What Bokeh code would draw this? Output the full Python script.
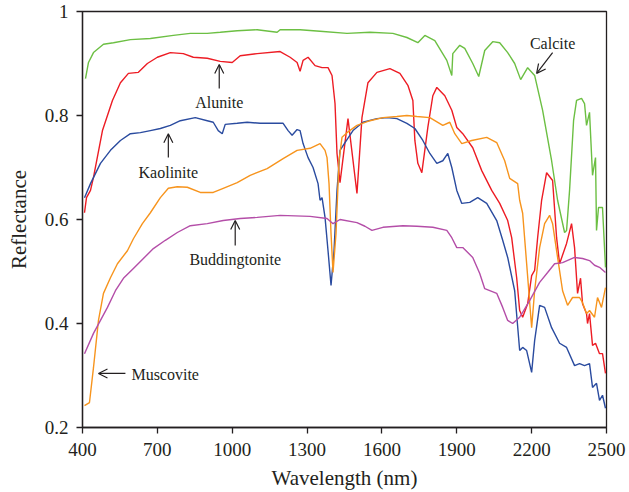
from bokeh.plotting import figure
from bokeh.models import FixedTicker, Label, Arrow, OpenHead
from bokeh.embed import file_html
from bokeh.resources import INLINE

# ---------------- data (wavelength in nm, reflectance) ----------------
calcite_wl = [412, 424, 444, 484, 524, 592, 672, 764, 832, 900, 952, 1020, 1100, 1180, 1192,
              1272, 1352, 1460, 1552, 1644, 1700, 1744, 1772, 1812, 1860, 1880, 1884, 1912,
              1932, 1964, 1988, 2012, 2044, 2072, 2104, 2132, 2156, 2184, 2212, 2244, 2280,
              2304, 2332, 2340, 2352, 2368, 2380, 2400, 2412, 2420, 2432, 2444, 2456, 2460,
              2468, 2484, 2496]
calcite_r = [0.871, 0.902, 0.921, 0.937, 0.940, 0.946, 0.948, 0.954, 0.958, 0.958, 0.960, 0.963,
             0.965, 0.960, 0.965, 0.965, 0.962, 0.958, 0.960, 0.958, 0.950, 0.940, 0.954, 0.944,
             0.906, 0.877, 0.919, 0.935, 0.929, 0.900, 0.875, 0.925, 0.942, 0.940, 0.921, 0.900,
             0.869, 0.892, 0.877, 0.810, 0.713, 0.637, 0.575, 0.579, 0.656, 0.790, 0.829, 0.833,
             0.823, 0.781, 0.806, 0.685, 0.719, 0.579, 0.623, 0.623, 0.508]

alunite_wl = [408, 416, 432, 444, 480, 520, 552, 584, 624, 660, 700, 752, 804, 844, 900, 952,
              1000, 1032, 1100, 1192, 1232, 1260, 1272, 1284, 1304, 1332, 1360, 1384, 1400, 1412,
              1420, 1432, 1464, 1500, 1520, 1544, 1580, 1632, 1672, 1704, 1724, 1732, 1744, 1760,
              1784, 1804, 1820, 1852, 1880, 1900, 1924, 1964, 2000, 2040, 2072, 2104, 2120, 2140,
              2152, 2164, 2184, 2200, 2212, 2224, 2240, 2260, 2284, 2300, 2312, 2340, 2360, 2372,
              2384, 2396, 2404, 2420, 2424, 2432, 2444, 2456, 2472, 2484, 2496]
alunite_r = [0.613, 0.642, 0.656, 0.681, 0.771, 0.829, 0.863, 0.881, 0.883, 0.900, 0.912, 0.921,
             0.919, 0.912, 0.910, 0.904, 0.902, 0.915, 0.919, 0.923, 0.912, 0.902, 0.885, 0.906,
             0.912, 0.896, 0.892, 0.892, 0.877, 0.823, 0.727, 0.671, 0.794, 0.650, 0.796, 0.863,
             0.883, 0.890, 0.881, 0.858, 0.829, 0.752, 0.708, 0.690, 0.777, 0.838, 0.854, 0.838,
             0.810, 0.777, 0.765, 0.738, 0.694, 0.656, 0.631, 0.598, 0.565, 0.488, 0.425, 0.412,
             0.438, 0.492, 0.502, 0.565, 0.637, 0.690, 0.675, 0.565, 0.515, 0.554, 0.592, 0.546,
             0.458, 0.487, 0.438, 0.419, 0.400, 0.419, 0.358, 0.362, 0.342, 0.342, 0.304]

kaolinite_wl = [408, 432, 472, 512, 552, 592, 632, 672, 712, 752, 792, 852, 900, 924, 944, 960,
                972, 1020, 1060, 1112, 1204, 1224, 1240, 1260, 1272, 1284, 1304, 1324, 1344, 1352,
                1360, 1372, 1384, 1396, 1408, 1420, 1432, 1452, 1484, 1524, 1580, 1620, 1660, 1700,
                1732, 1764, 1792, 1820, 1844, 1864, 1880, 1900, 1920, 1952, 1984, 2020, 2060, 2084,
                2104, 2132, 2152, 2164, 2180, 2200, 2212, 2232, 2252, 2280, 2312, 2340, 2372, 2392,
                2412, 2432, 2444, 2460, 2472, 2484, 2496]
kaolinite_r = [0.642, 0.669, 0.708, 0.733, 0.752, 0.765, 0.767, 0.771, 0.775, 0.781, 0.790, 0.796,
               0.790, 0.787, 0.771, 0.765, 0.783, 0.785, 0.787, 0.785, 0.785, 0.771, 0.762, 0.773,
               0.771, 0.746, 0.719, 0.700, 0.669, 0.637, 0.642, 0.604, 0.540, 0.473, 0.540, 0.656,
               0.733, 0.748, 0.771, 0.787, 0.794, 0.796, 0.794, 0.785, 0.775, 0.752, 0.727, 0.708,
               0.713, 0.727, 0.700, 0.656, 0.631, 0.633, 0.642, 0.631, 0.598, 0.560, 0.527, 0.463,
               0.348, 0.354, 0.348, 0.306, 0.367, 0.435, 0.431, 0.392, 0.362, 0.354, 0.319, 0.323,
               0.319, 0.323, 0.277, 0.285, 0.252, 0.262, 0.237]

muscovite_wl = [408, 428, 444, 464, 484, 512, 540, 580, 604, 640, 672, 712, 744, 780, 820, 872,
                924, 964, 1020, 1072, 1140, 1204, 1260, 1312, 1352, 1372, 1380, 1388, 1396, 1404,
                1416, 1428, 1440, 1460, 1500, 1552, 1604, 1660, 1700, 1740, 1792, 1844, 1872, 1892,
                1920, 1960, 2020, 2060, 2092, 2112, 2144, 2152, 2164, 2180, 2200, 2212, 2232, 2252,
                2272, 2284, 2304, 2324, 2344, 2364, 2392, 2404, 2420, 2432, 2452, 2464, 2480, 2496]
muscovite_r = [0.242, 0.248, 0.315, 0.406, 0.458, 0.488, 0.515, 0.540, 0.563, 0.592, 0.613, 0.642,
               0.660, 0.663, 0.662, 0.652, 0.652, 0.660, 0.671, 0.685, 0.698, 0.717, 0.733, 0.737,
               0.746, 0.733, 0.719, 0.669, 0.573, 0.498, 0.573, 0.713, 0.758, 0.767, 0.781, 0.790,
               0.796, 0.798, 0.800, 0.798, 0.796, 0.781, 0.787, 0.765, 0.746, 0.752, 0.758, 0.748,
               0.713, 0.679, 0.669, 0.637, 0.612, 0.515, 0.392, 0.463, 0.546, 0.592, 0.608, 0.592,
               0.527, 0.463, 0.435, 0.450, 0.450, 0.440, 0.419, 0.425, 0.412, 0.450, 0.431, 0.469]

buddingtonite_wl = [408, 444, 472, 500, 532, 564, 604, 644, 684, 732, 780, 832, 900, 964, 1032,
                    1100, 1192, 1312, 1380, 1404, 1432, 1500, 1532, 1560, 1604, 1684, 1740, 1804,
                    1860, 1880, 1900, 1924, 1964, 1992, 2012, 2060, 2084, 2104, 2124, 2152, 2192,
                    2232, 2264, 2292, 2324, 2372, 2404, 2432, 2452, 2472, 2496]
buddingtonite_r = [0.342, 0.381, 0.406, 0.431, 0.463, 0.487, 0.506, 0.525, 0.544, 0.560, 0.575,
                   0.588, 0.592, 0.598, 0.602, 0.604, 0.608, 0.606, 0.602, 0.592, 0.600, 0.594,
                   0.587, 0.579, 0.585, 0.588, 0.587, 0.585, 0.579, 0.565, 0.546, 0.546, 0.527,
                   0.496, 0.467, 0.458, 0.431, 0.406, 0.400, 0.412, 0.444, 0.479, 0.498, 0.515,
                   0.517, 0.527, 0.525, 0.521, 0.512, 0.508, 0.498]

x_ticks = [400, 700, 1000, 1300, 1600, 1900, 2200, 2500]
y_ticks = [0.2, 0.4, 0.6, 0.8, 1.0]

# ---------------- figure ----------------
FONT = "Liberation Serif"
INK = "#231f20"

p = figure(width=629, height=492, x_range=(400, 2500), y_range=(0.2, 1.0),
           output_backend="svg", toolbar_location=None,
           min_border_left=82, min_border_right=23, min_border_top=11, min_border_bottom=65)
p.grid.visible = False
p.outline_line_color = INK
p.outline_line_width = 1.3
p.background_fill_color = "white"
p.border_fill_color = "white"

series = [
    (calcite_wl, calcite_r, "#6cbf43"),
    (alunite_wl, alunite_r, "#ed1c24"),
    (kaolinite_wl, kaolinite_r, "#2a4b9f"),
    (muscovite_wl, muscovite_r, "#f7941d"),
    (buddingtonite_wl, buddingtonite_r, "#b44ea8"),
]
for wl, r, c in series:
    p.line(wl, r, line_color=c, line_width=1.4)

for ax in (p.xaxis[0], p.yaxis[0]):
    ax.axis_line_color = INK
    ax.axis_line_width = 1.3
    ax.major_tick_line_color = INK
    ax.major_tick_line_width = 1.3
    ax.major_tick_out = 6
    ax.major_tick_in = 0
    ax.minor_tick_out = 0
    ax.minor_tick_in = 0
    ax.major_label_text_font = FONT
    ax.major_label_text_font_size = "19px"
    ax.major_label_text_color = INK
    ax.axis_label_text_font = FONT
    ax.axis_label_text_font_size = "21px"
    ax.axis_label_text_font_style = "normal"
    ax.axis_label_text_color = INK

p.xaxis.ticker = FixedTicker(ticks=x_ticks)
p.yaxis.ticker = FixedTicker(ticks=y_ticks)
p.yaxis.major_label_overrides = {1: "1"}
p.xaxis.axis_label = "Wavelength (nm)"
p.yaxis.axis_label = "Reflectance"
p.xaxis.major_label_standoff = 9
p.yaxis.major_label_standoff = 8
p.xaxis.axis_label_standoff = 7
p.yaxis.axis_label_standoff = 11

# ---------------- annotations ----------------
def add_label(x, y, text, align="center"):
    p.add_layout(Label(x=x, y=y, text=text, text_align=align, text_baseline="middle",
                       text_font=FONT, text_font_size="16px", text_color=INK))

def add_arrow(x0, y0, x1, y1):
    p.add_layout(Arrow(end=OpenHead(size=9, line_width=1.2, line_color=INK),
                       x_start=x0, y_start=y0, x_end=x1, y_end=y1,
                       line_width=1.2, line_color=INK))

add_label(948, 0.825, "Alunite")
add_arrow(948, 0.852, 948, 0.898)
add_label(744, 0.690, "Kaolinite")
add_arrow(744, 0.719, 744, 0.765)
add_label(1012, 0.523, "Buddingtonite")
add_arrow(1012, 0.550, 1012, 0.598)
add_label(596, 0.302, "Muscovite", align="left")
add_arrow(572, 0.304, 464, 0.304)
add_label(2284, 0.938, "Calcite")
add_arrow(2284, 0.921, 2220, 0.881)

open("out.html", "w").write(file_html(p, INLINE))
